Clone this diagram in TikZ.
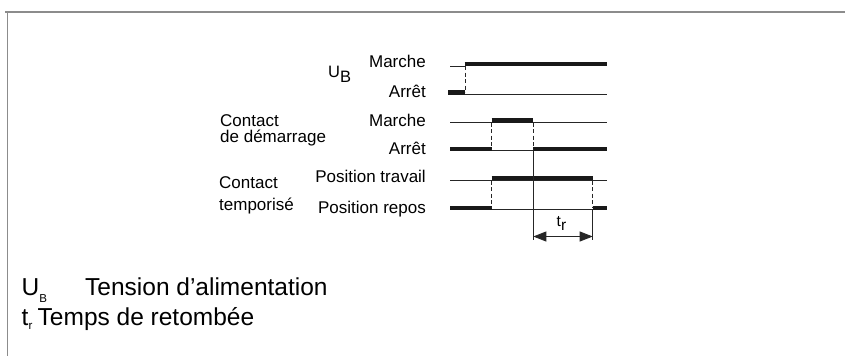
\documentclass[tikz,border=0pt]{standalone}
\usepackage{fontspec}
\setmainfont{Liberation Sans}
\usetikzlibrary{arrows.meta}
\begin{document}
\begin{tikzpicture}[x=1pt,y=-1pt,
  lbl/.style={inner sep=0pt,font=\fontsize{17}{17}\selectfont},
  lblr/.style={lbl,anchor=base east},
  lbll/.style={lbl,anchor=base west},
  leg/.style={inner sep=0pt,anchor=base west,font=\fontsize{24.5}{24.5}\selectfont},
  thin/.style={line width=0.9pt,black!85},
  thk/.style={line width=4.5pt,black!90},
  dsh/.style={line width=0.9pt,black!85,dash pattern=on 4pt off 2.5pt},
  frame/.style={draw=black!45}]
\useasboundingbox (0,0) rectangle (845,356);
% frame
\draw[frame,line width=2pt] (5,12) -- (845,12);
\draw[frame,line width=0.9pt] (7,12) -- (7,356);

% ---- labels
\node[lblr] (m1) at (426,67) {Marche};
\node[lblr] (a1) at (426,97) {Arrêt};
\node[inner sep=0pt,anchor=base west,font=\fontsize{16.5}{16.5}\selectfont] (ub) at (328,77.5) {U\raisebox{-5pt}{B}};
\node[lbll] (cd1) at (220,126) {Contact};
\node[lbll] (cd2) at (220,142) {de démarrage};
\node[lblr] (m2) at (426,126) {Marche};
\node[lblr] (a2) at (426,154.5) {Arrêt};
\node[lbll] (ct1) at (219,188.5) {Contact};
\node[lbll] (ct2) at (219,210) {temporisé};
\node[lblr] (pt) at (426,182) {Position travail};
\node[lblr] (pr) at (426,213) {Position repos};

% ---- U_B signal
\draw[thin] (450,66) -- (465,66);
\draw[thk] (464.5,64) -- (607,64);
\draw[thk] (448,92.7) -- (465,92.7);
\draw[thin] (465,94.5) -- (607,94.5);
\draw[dsh] (465,66) -- (465,92);

% ---- start contact
\draw[thin] (450,122.5) -- (607,122.5);
\draw[thk] (491.7,120.5) -- (533.3,120.5);
\draw[thk] (450,149) -- (491.7,149);
\draw[thin] (491.7,150.5) -- (533.3,150.5);
\draw[thk] (533.3,149) -- (607,149);
\draw[dsh] (491.7,122.5) -- (491.7,149);
\draw[dsh] (533.3,122.5) -- (533.3,149);

% ---- timer contact
\draw[thin] (450,180.5) -- (607,180.5);
\draw[thk] (491.7,178) -- (592.7,178);
\draw[thk] (450,208) -- (491.7,208);
\draw[thin] (491.7,209.5) -- (592.7,209.5);
\draw[thk] (592.7,208) -- (607,208);
\draw[dsh] (491.7,180.5) -- (491.7,208);
\draw[dsh] (592.7,180.5) -- (592.7,208);

% ---- t_r dimension
\coordinate (v1top) at (533.3,151);
\coordinate (v1bot) at (533.3,239.5);
\coordinate (v2top) at (592.7,209);
\coordinate (v2bot) at (592.7,239.5);
\draw[thin] (v1top) -- (v1bot);
\draw[thin] (v2top) -- (v2bot);
\coordinate (tA) at (533.3,236.5);
\coordinate (tB) at (592.7,236.5);
\draw[thin,{Triangle[length=13pt,width=10pt]}-{Triangle[length=13pt,width=10pt]}] (tA) -- (tB);
\node[inner sep=0pt,anchor=base west,font=\fontsize{15.5}{15.5}\selectfont] (tr) at (556.5,226) {t\raisebox{-4pt}{r}};

% ---- legend
\node[leg] (lu) at (21.5,295) {U\raisebox{-7pt}{\fontsize{11.5}{11.5}\selectfont B}};
\node[leg] (lut) at (85,295) {Tension d’alimentation};
\node[leg] (lt) at (21.5,325) {t\raisebox{-4pt}{\fontsize{11.5}{11.5}\selectfont r}};
\node[leg] (ltt) at (37.5,325) {Temps de retombée};
\end{tikzpicture}
\end{document}
